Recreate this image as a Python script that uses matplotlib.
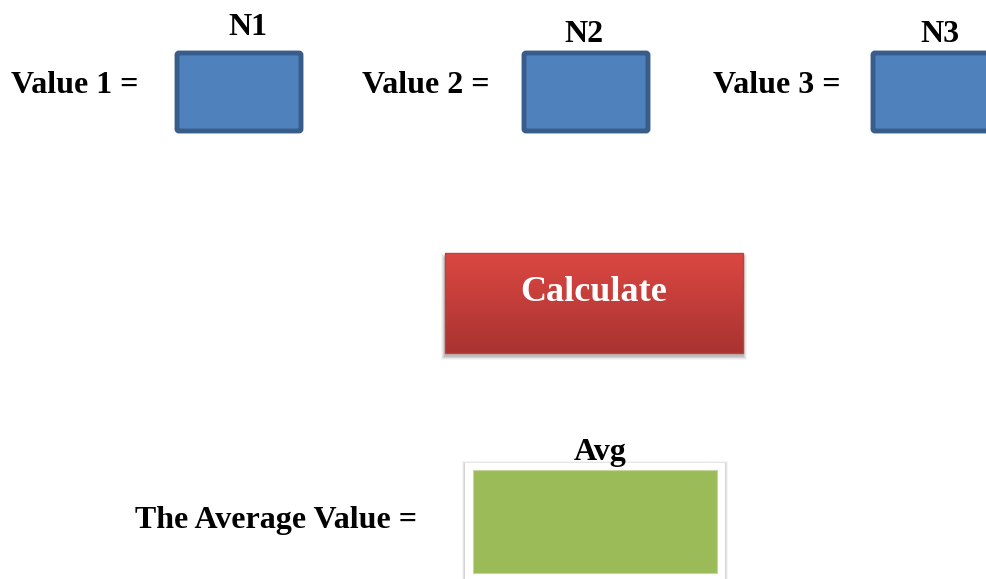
import numpy as np
import matplotlib.pyplot as plt
from matplotlib.patches import Rectangle, FancyBboxPatch

plt.rcParams['font.family'] = ['Liberation Serif', 'DejaVu Serif']

value_labels = ["Value 1 =", "Value 2 =", "Value 3 ="]
box_names = ["N1", "N2", "N3"]
button_text = "Calculate"
avg_label = "The Average Value ="
avg_name = "Avg"

W, H = 987, 579
fig = plt.figure(figsize=(W / 100, H / 100), dpi=100)
ax = fig.add_axes([0, 0, 1, 1])
ax.set_xlim(0, W)
ax.set_ylim(H, 0)
ax.axis('off')

FS = 23
label_x = [11, 362, 713]
box_x0 = [175, 522, 871]
name_x = [248, 584, 940]
name_base = [35, 42, 42]
for lx, bx, nx, nb, lab, nm in zip(label_x, box_x0, name_x, name_base, value_labels, box_names):
    ax.text(lx, 93, lab, ha='left', va='baseline', fontsize=FS, fontweight='bold')
    ax.add_patch(FancyBboxPatch((bx + 2, 53), 124, 78, boxstyle="round,pad=0,rounding_size=2",
                                facecolor='#4f81bd', edgecolor='#385d8a', linewidth=3.5))
    ax.text(nx, nb, nm, ha='center', va='baseline', fontsize=FS, fontweight='bold')

# Calculate button with soft shadow and gradient
bx0, by0, bw, bh = 445, 253, 298, 100
for i, a in enumerate([0.04, 0.06, 0.08, 0.10]):
    ax.add_patch(Rectangle((bx0 - 4 + i, by0 + 1 + i), bw + 8 - 2 * i, bh + 6 - 2 * i,
                           facecolor='black', alpha=a, edgecolor='none', zorder=1))
grad = np.linspace(0, 1, 100)[:, None]
top = np.array([0.86, 0.28, 0.26])
bot = np.array([0.66, 0.20, 0.19])
img = top[None, None, :] * (1 - grad[..., None]) + bot[None, None, :] * grad[..., None]
img = np.repeat(img, 2, axis=1)
ax.imshow(img, extent=(bx0, bx0 + bw, by0 + bh, by0), aspect='auto', zorder=2)
ax.add_patch(Rectangle((bx0, by0), bw, bh, facecolor='none', edgecolor='#b84440', linewidth=1, zorder=3))
ax.text(bx0 + bw / 2, 301, button_text, ha='center', va='baseline', fontsize=26,
        fontweight='bold', color='white', zorder=4)

# Average box
for i, a in enumerate([0.04, 0.06, 0.08]):
    ax.add_patch(Rectangle((462 + i, 461 + i), 266 - 2 * i, 130, facecolor='black', alpha=a,
                           edgecolor='none'))
ax.add_patch(Rectangle((465, 463), 260, 130, facecolor='white', edgecolor='none'))
ax.add_patch(Rectangle((473, 470), 244, 103, facecolor='#9bbb59', edgecolor='#c3d69b', linewidth=0.8))
ax.text(600, 460, avg_name, ha='center', va='baseline', fontsize=FS, fontweight='bold', zorder=5)
ax.text(135, 528, avg_label, ha='left', va='baseline', fontsize=FS, fontweight='bold')

fig.savefig('out.png', dpi=100)
